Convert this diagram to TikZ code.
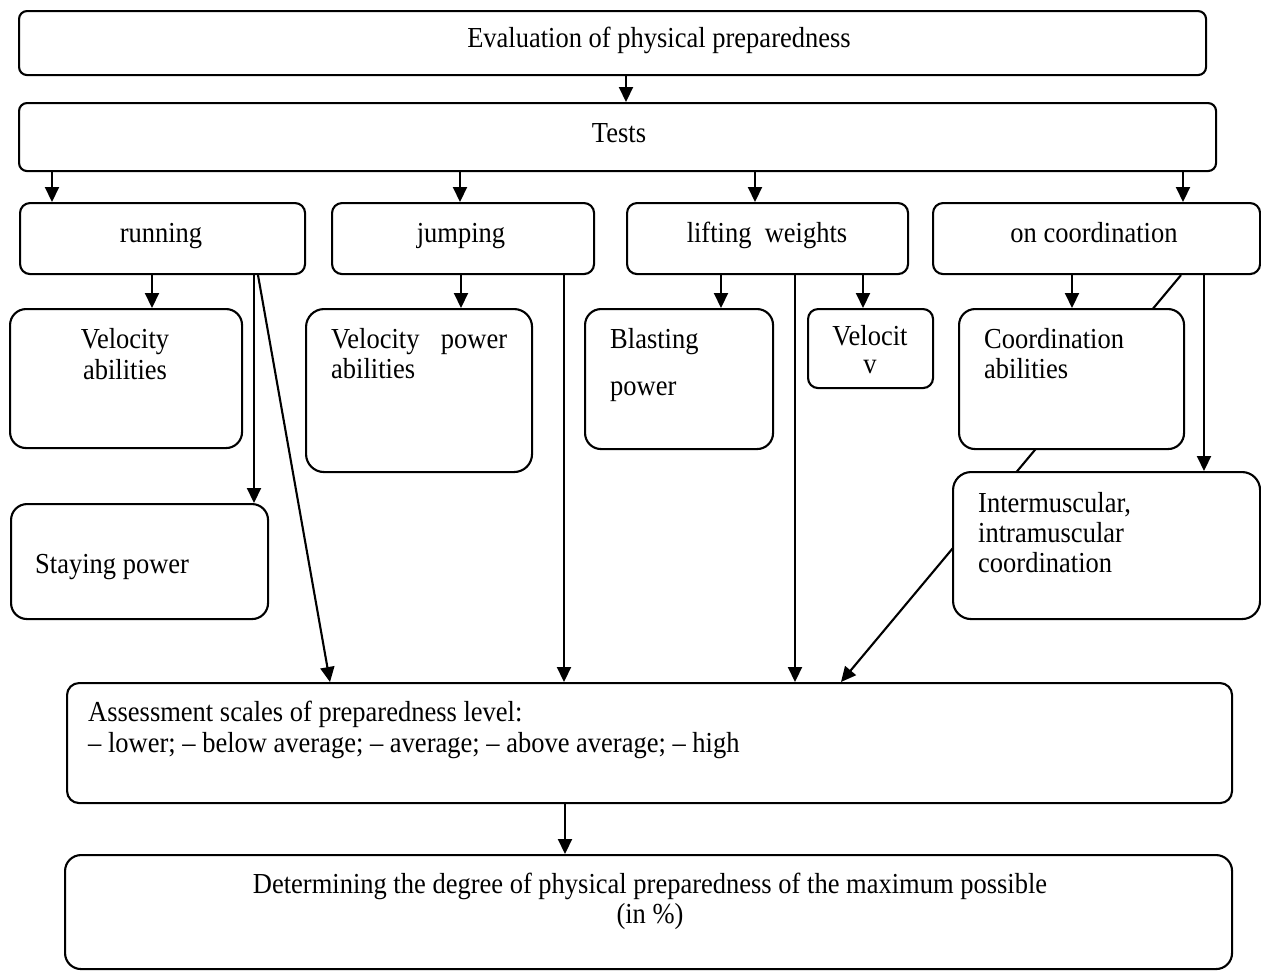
\documentclass[tikz,border=0pt]{standalone}
\usepackage{fontspec}
\setmainfont{Liberation Serif}[FakeStretch=0.914]
\usetikzlibrary{arrows.meta,calc}
\pgfdeclarelayer{bg}
\pgfsetlayers{bg,main}
\begin{document}
\begin{tikzpicture}[x=1pt,y=-1pt,
  box/.style={draw, line width=2.1pt, fill=white, rounded corners=#1, inner sep=0pt, anchor=north west},
  box/.default=10pt,
  lbl/.style={inner sep=0pt, font=\fontsize{29}{30.5}\selectfont,
    execute at begin node={\spaceskip=0pt\xspaceskip=0pt\relax}},
  arr/.style={line width=2.1pt, -{Triangle[length=15pt,width=14pt]}}]
\useasboundingbox (0,0) rectangle (1261,970);
% boxes
\node[box=8pt, minimum width=1187pt, minimum height=64pt] (eval) at (18,10) {};
\node[box=8pt, minimum width=1197pt, minimum height=68pt] (tests) at (18,102) {};
\node[box=10pt, minimum width=285pt, minimum height=71pt] (run) at (19,202) {};
\node[box=10pt, minimum width=262pt, minimum height=71pt] (jump) at (331,202) {};
\node[box=10pt, minimum width=281pt, minimum height=71pt] (lift) at (626,202) {};
\node[box=10pt, minimum width=327pt, minimum height=71pt] (coord) at (932,202) {};
\node[box=16pt, minimum width=232pt, minimum height=139pt] (vel) at (9,308) {};
\node[box=18pt, minimum width=226pt, minimum height=163pt] (velpow) at (305,308) {};
\node[box=16pt, minimum width=188pt, minimum height=140pt] (blast) at (584,308) {};
\node[box=10pt, minimum width=125pt, minimum height=79pt] (velocit) at (807,308) {};
\node[box=16pt, minimum width=225pt, minimum height=140pt] (coordab) at (958,308) {};
\node[box=16pt, minimum width=257pt, minimum height=115pt] (stay) at (10,503) {};
\node[box=18pt, minimum width=307pt, minimum height=147pt] (inter) at (952,471) {};
\node[box=12pt, minimum width=1165pt, minimum height=120pt] (assess) at (66,682) {};
\node[box=16pt, minimum width=1167pt, minimum height=114pt] (determ) at (64,854) {};
% texts
\node[lbl, anchor=base] (evalT) at (659,47) {Evaluation of physical preparedness};
\node[lbl, anchor=base] (testsT) at (619,142) {Tests};
\node[lbl, anchor=base] (runT) at (161,242) {running};
\node[lbl, anchor=base] (jumpT) at (461,242) {jumping};
\node[lbl, anchor=base] (liftT) at (767,242) {lifting~~weights};
\node[lbl, anchor=base] (coordT) at (1094,242) {on coordination};
\node[lbl, anchor=base, align=center] (velT) at (125,379) {Velocity\\abilities};
\node[lbl, anchor=base west, text width=176pt, align=left] (velpowT) at (331,348) {Velocity\hfill power\\abilities};
\node[lbl, anchor=base west, text width=150pt, align=left, font=\fontsize{29}{47}\selectfont] (blastT) at (610,348) {Blasting\\power};
\node[lbl, anchor=base, align=center, font=\fontsize{29}{28}\selectfont] (velocitT) at (870,373) {Velocit\\v};
\node[lbl, anchor=base west, text width=190pt, align=left] (coordabT) at (984,348) {Coordination\\abilities};
\node[lbl, anchor=base west] (stayT) at (35,573) {Staying power};
\node[lbl, anchor=base west, text width=270pt, align=left, font=\fontsize{29}{30}\selectfont] (interT) at (978,512) {Intermuscular,\\intramuscular\\coordination};
\node[lbl, anchor=base west, text width=1100pt, align=left, font=\fontsize{29}{31}\selectfont] (assessT) at (88,721) {Assessment scales of preparedness level:\\– lower; – below average; – average; – above average; – high};
\node[lbl, anchor=base, align=center, font=\fontsize{29}{30}\selectfont] (determT) at (650,923) {Determining the degree of physical preparedness of the maximum possible\\(in \%)};
% column coordinates
\foreach \xx in {52,152,254,258,330,460,461,564,565,626,721,755,795,841,863,1072,1181,1183,1204}
  \coordinate (k\xx) at (\xx,0);
% connectors
\draw[arr] (eval.south -| k626) -- (tests.north -| k626);
\draw[arr] (tests.south -| k52) -- (run.north -| k52);
\draw[arr] (tests.south -| k460) -- (jump.north -| k460);
\draw[arr] (tests.south -| k755) -- (lift.north -| k755);
\draw[arr] (tests.south -| k1183) -- (coord.north -| k1183);
\draw[arr] (run.south -| k152) -- (vel.north -| k152);
\draw[arr] (run.south -| k254) -- (stay.north -| k254);
\draw[arr] (run.south -| k258) -- (assess.north -| k330);
\draw[arr] (jump.south -| k461) -- (velpow.north -| k461);
\draw[arr] (jump.south -| k564) -- (assess.north -| k564);
\draw[arr] (lift.south -| k721) -- (blast.north -| k721);
\draw[arr] (lift.south -| k863) -- (velocit.north -| k863);
\draw[arr] (lift.south -| k795) -- (assess.north -| k795);
\draw[arr] (coord.south -| k1072) -- (coordab.north -| k1072);
\draw[arr] (coord.south -| k1204) -- (inter.north -| k1204);
\begin{pgfonlayer}{bg}
\draw[arr] (coord.south -| k1181) -- (assess.north -| k841);
\end{pgfonlayer}
\draw[arr] (assess.south -| k565) -- (determ.north -| k565);
\end{tikzpicture}
\end{document}
